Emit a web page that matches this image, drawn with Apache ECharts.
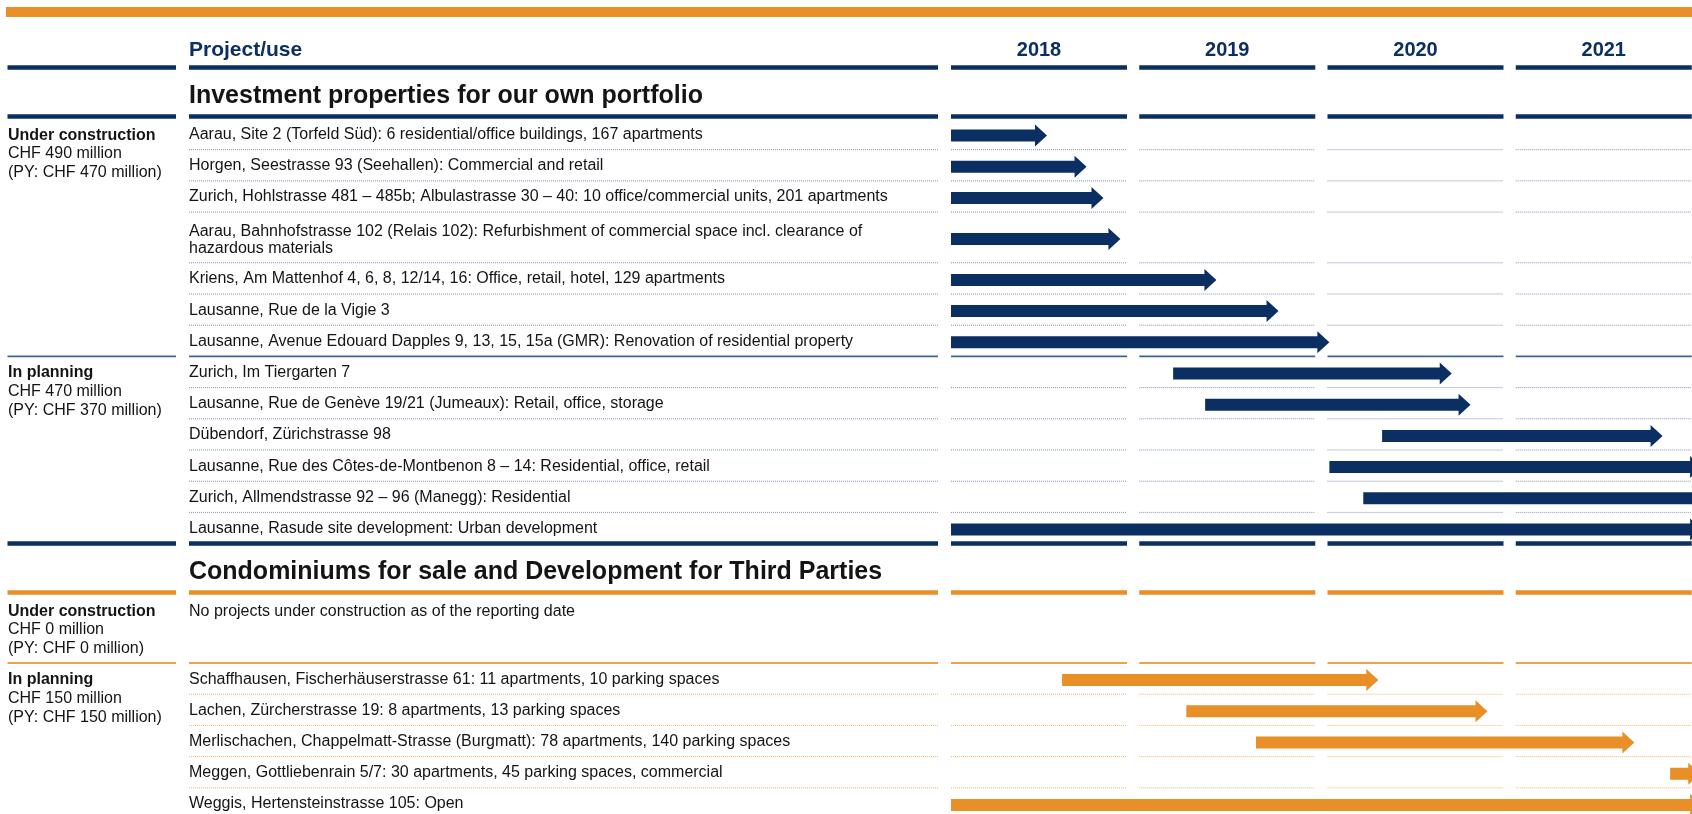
<!DOCTYPE html>
<html>
<head>
<meta charset="utf-8">
<script src="https://cdn.jsdelivr.net/npm/echarts@6/dist/echarts.min.js"></script>
<style>
  html, body { margin: 0; padding: 0; background: #ffffff; }
  #chart { width: 1692px; height: 814px; }
</style>
</head>
<body>
<div id="chart"></div>
<script>
// ---- data ----
const years = [2018, 2019, 2020, 2021];
const headerLabel = 'Project/use';
const sectionTitles = [
  'Investment properties for our own portfolio',
  'Condominiums for sale and Development for Third Parties'
];

// investment properties
const investNames = [
  'Aarau, Site 2 (Torfeld Süd): 6 residential/office buildings, 167 apartments',
  'Horgen, Seestrasse 93 (Seehallen): Commercial and retail',
  'Zurich, Hohlstrasse 481 – 485b; Albulastrasse 30 – 40: 10 office/commercial units, 201 apartments',
  'Aarau, Bahnhofstrasse 102 (Relais 102): Refurbishment of commercial space incl. clearance of\nhazardous materials',
  'Kriens, Am Mattenhof 4, 6, 8, 12/14, 16: Office, retail, hotel, 129 apartments',
  'Lausanne, Rue de la Vigie 3',
  'Lausanne, Avenue Edouard Dapples 9, 13, 15, 15a (GMR): Renovation of residential property',
  'Zurich, Im Tiergarten 7',
  'Lausanne, Rue de Genève 19/21 (Jumeaux): Retail, office, storage',
  'Dübendorf, Zürichstrasse 98',
  'Lausanne, Rue des Côtes-de-Montbenon 8 – 14: Residential, office, retail',
  'Zurich, Allmendstrasse 92 – 96 (Manegg): Residential',
  'Lausanne, Rasude site development: Urban development'
];
const investStart = [2018.0, 2018.0, 2018.0, 2018.0, 2018.0, 2018.0, 2018.0, 2019.18, 2019.35, 2020.29, 2020.01, 2020.19, 2018.0];
const investEnd = [2018.51, 2018.72, 2018.81, 2018.9, 2019.41, 2019.74, 2020.01, 2020.66, 2020.76, 2021.78, 2021.99, 2022.0, 2021.99];
const investGroupRows = [7, 6];
const investGroupLabels = [
  ['Under construction', 'CHF 490 million', '(PY: CHF 470 million)'],
  ['In planning', 'CHF 470 million', '(PY: CHF 370 million)']
];

// condominiums / third parties
const condoNames = [
  'Schaffhausen, Fischerhäuserstrasse 61: 11 apartments, 10 parking spaces',
  'Lachen, Zürcherstrasse 19: 8 apartments, 13 parking spaces',
  'Merlischachen, Chappelmatt-Strasse (Burgmatt): 78 apartments, 140 parking spaces',
  'Meggen, Gottliebenrain 5/7: 30 apartments, 45 parking spaces, commercial',
  'Weggis, Hertensteinstrasse 105: Open'
];
const condoStart = [2018.59, 2019.25, 2019.62, 2021.82, 2018.0];
const condoEnd = [2020.27, 2020.85, 2021.63, 2021.98, 2021.99];
const condoGroupRows = [0, 5];
const condoGroupLabels = [
  ['Under construction', 'CHF 0 million', '(PY: CHF 0 million)'],
  ['In planning', 'CHF 150 million', '(PY: CHF 150 million)']
];
const condoEmptyNote = 'No projects under construction as of the reporting date';

// ---- layout ----
const W = 1692, H = 814;
const GRID_LEFT = 951;
const YEAR_PX = 188.25;    // width of one year on the time axis
const ROW = 31.2;          // single line row
const LINE = 19.5;         // extra per wrapped line
const LABEL_LH = 18.8;     // left column line height
const COL_W = 176 / YEAR_PX; // year column width (share of a year)
const LEFT_COL = [7.5, 176];
const PROJ_COL = [189, 938];
const FONT = '"Liberation Sans", Arial, sans-serif';
const BODY = 16;
const NAVY = '#0b2f63';
const ORANGE = '#e88f28';
const TEXT = '#141414';
const u = px => px / ROW;  // pixels -> row units

const ruleStyles = [
  { name: 'bar', full: true, width: 10, color: ORANGE },
  { name: 'thickNavy', left: true, width: 4.5, color: NAVY },
  { name: 'thickOrange', left: true, width: 4.5, color: ORANGE },
  { name: 'thinNavy', left: true, width: 1.6, color: '#3e6396' },
  { name: 'thinOrange', left: true, width: 2, color: '#efa24d' },
  { name: 'dotNavy', width: 1, color: '#8096b8', dash: [1, 1] },
  { name: 'dotOrange', width: 1, color: '#f3b775', dash: [1, 1] }
];
const R = {};
ruleStyles.forEach((s, i) => { R[s.name] = i; });

const rules = [];
const labels = [];
const arrows = [];

rules.push([2018, u(12), R.bar]);
labels.push({ kind: 'header', y: u(50), text: headerLabel });
years.forEach(yr => labels.push({ kind: 'year', yr: yr, y: u(50), text: String(yr) }));

let cursor = 67.5;
function addSection(si, names, starts, ends, groupRows, groupLabels, emptyNote) {
  const orange = si === 1;
  rules.push([2018, u(cursor), R.thickNavy]);
  labels.push({ kind: 'title', y: u(cursor + 28.5), text: sectionTitles[si] });
  cursor += 49;
  rules.push([2018, u(cursor), orange ? R.thickOrange : R.thickNavy]);
  let y = cursor + 2;
  let i = 0;
  groupRows.forEach((n, g) => {
    if (g > 0) rules.push([2018, u(y), orange ? R.thinOrange : R.thinNavy]);
    labels.push({ kind: 'group', y: u(y + ROW / 2 + 1), lines: groupLabels[g] });
    if (n === 0) {
      labels.push({ kind: 'name', y: u(y + ROW / 2 + 1), text: emptyNote });
      y += 3 * LABEL_LH + 12;
    }
    for (let k = 0; k < n; k++, i++) {
      if (k > 0) rules.push([2018, u(y), orange ? R.dotOrange : R.dotNavy]);
      const nLines = names[i].split('\n').length;
      const h = ROW + LINE * (nLines - 1);
      labels.push({ kind: 'name', y: u(y + h / 2 + 0.5 + (nLines > 1 ? 2 : 0)), text: names[i] });
      arrows.push([starts[i], u(y + h / 2 + 1.5), ends[i], si]);
      y += h;
    }
  });
  cursor = y;
}
addSection(0, investNames, investStart, investEnd, investGroupRows, investGroupLabels, '');
addSection(1, condoNames, condoStart, condoEnd, condoGroupRows, condoGroupLabels, condoEmptyNote);

// ---- chart ----
const chart = echarts.init(document.getElementById('chart'));

function renderRule(params, api) {
  const s = ruleStyles[api.value(2)];
  const y = api.coord([2018, api.value(1)])[1];
  const segs = [];
  if (s.full) {
    segs.push([6, W]);
  } else {
    if (s.left) segs.push(LEFT_COL);
    segs.push(PROJ_COL);
    years.forEach(yr => {
      segs.push([api.coord([yr, 0])[0], api.coord([yr + COL_W, 0])[0]]);
    });
  }
  return {
    type: 'group',
    children: segs.map(sg => ({
      type: 'line',
      shape: { x1: sg[0], y1: y, x2: sg[1], y2: y },
      style: { stroke: s.color, lineWidth: s.width, lineDash: s.dash || null }
    }))
  };
}

function renderArrow(params, api) {
  const p0 = api.coord([api.value(0), api.value(1)]);
  const p1 = api.coord([api.value(2), api.value(1)]);
  const y = p0[1];
  const sh = 6, hh = 11, hl = 12;
  const xb = p1[0] - hl;
  return {
    type: 'polygon',
    shape: {
      points: [
        [p0[0], y - sh], [xb, y - sh], [xb, y - hh], [p1[0], y],
        [xb, y + hh], [xb, y + sh], [p0[0], y + sh]
      ]
    },
    style: { fill: api.value(3) === 1 ? ORANGE : NAVY }
  };
}

function renderLabel(params, api) {
  const d = labels[params.dataIndex];
  const y = api.coord([2018, d.y])[1];
  if (d.kind === 'header') {
    return { type: 'text', x: PROJ_COL[0], y: y, style: {
      text: d.text, fill: NAVY, fontFamily: FONT, fontWeight: 'bold', fontSize: 21,
      align: 'left', verticalAlign: 'middle' } };
  }
  if (d.kind === 'year') {
    const x = api.coord([d.yr + COL_W / 2, 0])[0];
    return { type: 'text', x: x, y: y, style: {
      text: d.text, fill: NAVY, fontFamily: FONT, fontWeight: 'bold', fontSize: 20,
      align: 'center', verticalAlign: 'middle' } };
  }
  if (d.kind === 'title') {
    return { type: 'text', x: PROJ_COL[0], y: y, style: {
      text: d.text, fill: TEXT, fontFamily: FONT, fontWeight: 'bold', fontSize: 25,
      align: 'left', verticalAlign: 'middle' } };
  }
  if (d.kind === 'group') {
    return { type: 'text', x: LEFT_COL[0] + 0.5, y: y - LABEL_LH / 2, style: {
      text: '{b|' + d.lines[0] + '}\n{r|' + d.lines[1] + '}\n{r|' + d.lines[2] + '}',
      align: 'left', verticalAlign: 'top',
      rich: {
        b: { fontFamily: FONT, fontWeight: 'bold', fontSize: BODY, lineHeight: LABEL_LH, fill: TEXT },
        r: { fontFamily: FONT, fontSize: BODY, lineHeight: LABEL_LH, fill: TEXT }
      } } };
  }
  return { type: 'text', x: PROJ_COL[0], y: y, style: {
    text: d.text, fill: TEXT, fontFamily: FONT, fontSize: BODY, lineHeight: 17.5,
    align: 'left', verticalAlign: 'middle' } };
}

chart.setOption({
  animation: false,
  grid: { left: GRID_LEFT, right: 0, top: 0, bottom: 0 },
  xAxis: { type: 'value', min: 2018, max: 2018 + (W - GRID_LEFT) / YEAR_PX, show: false },
  yAxis: { type: 'value', min: 0, max: u(H), inverse: true, show: false },
  series: [
    { type: 'custom', name: 'rules', clip: false, silent: true, renderItem: renderRule, data: rules },
    { type: 'custom', name: 'projects', clip: false, renderItem: renderArrow,
      encode: { x: [0, 2], y: 1 }, data: arrows },
    { type: 'custom', name: 'labels', clip: false, silent: true, renderItem: renderLabel,
      data: labels.map(d => [2018, d.y]) }
  ]
});
</script>
</body>
</html>
